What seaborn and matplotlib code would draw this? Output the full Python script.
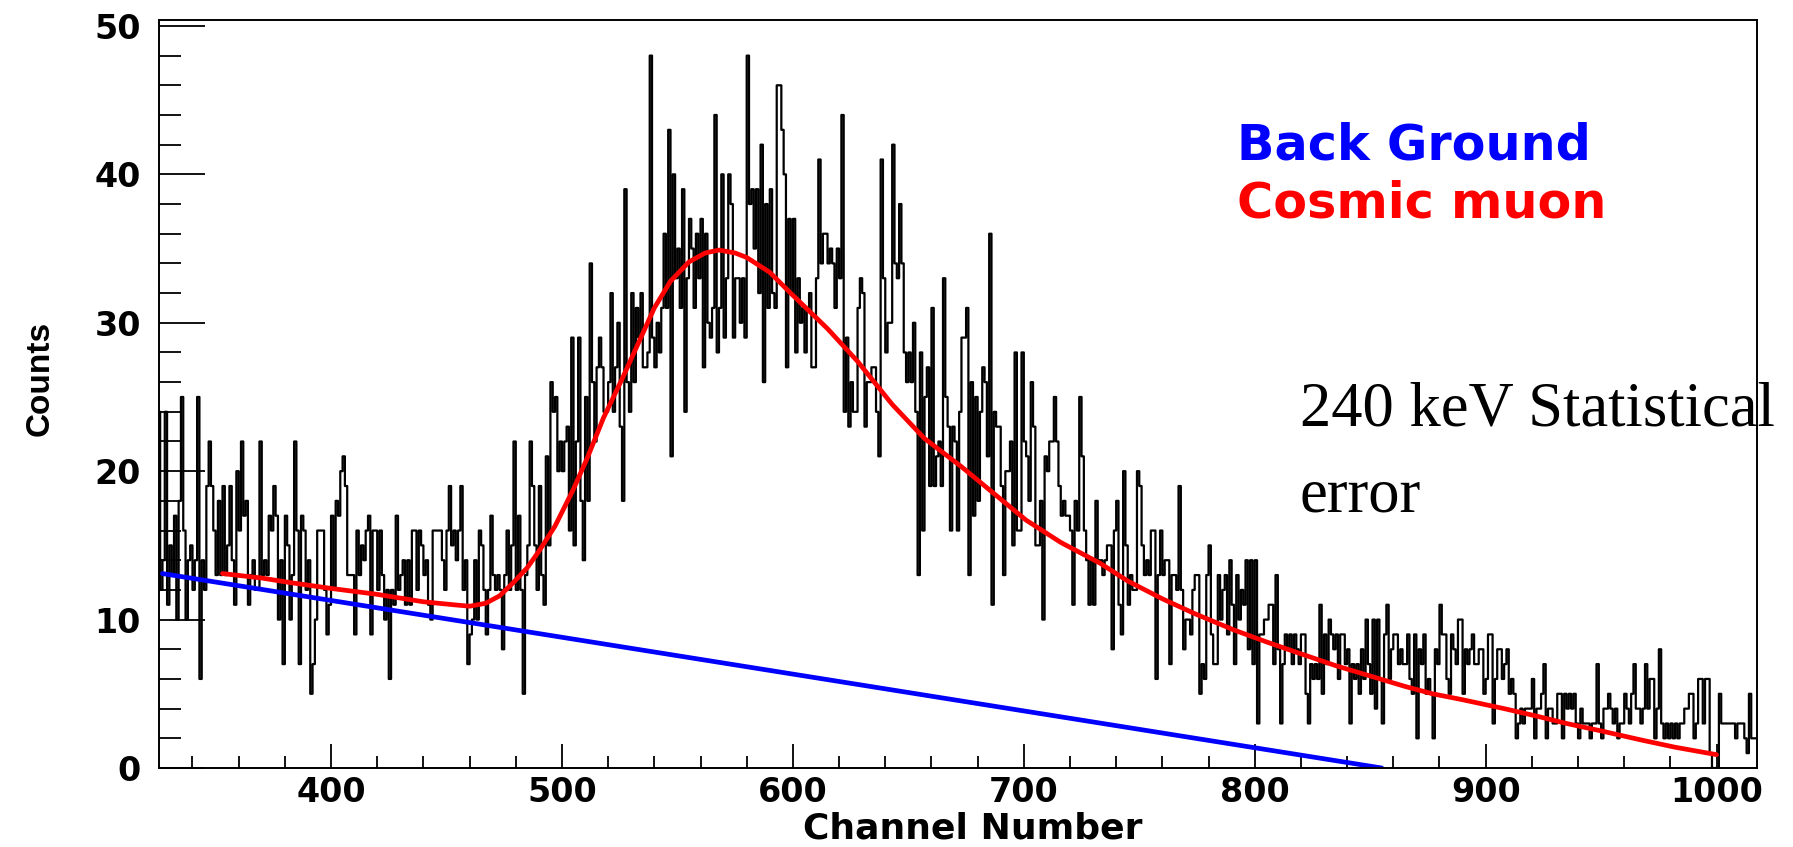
import numpy as np
import pandas as pd
import matplotlib
matplotlib.use("Agg")
import matplotlib.pyplot as plt
import seaborn as sns
from matplotlib.ticker import MultipleLocator

# ---------------- data ----------------
first_channel = 324
counts_a = [13,24,12,14,24,11,15,13,17,10, 18,25,16,10,14,15,12,14,25,6,
            14,12,19,22,19,16,13,18,13,19, 13,15,19,14,11,20,16,22,17,18,
            11,13,14,12,12,22,13,14,13,17, 16,19,17,10,14,7,17,15,10]
counts_b = [13,22,16,7,17,16,12,14,5,7, 10,16,16,16,12,9,11,17,12,18,
            17,20,21,19,13,13,13,9,16,13, 15,14,16,17,9,16,16,12,16,13,
            10,12,6,12,11,17,12,13,14,11, 14,11,16,16,12,16,15,13]
counts_c = [14,11,10,16,16,16,16,14,12,16, 19,15,16,14,16,19,12,14,7,9,
            10,14,10,16,15,12,9,12,17,13, 12,13,12,8,13,16,12,15,22,12,
            17,12,5,13,15,22,19,15,12,19, 13,11,21,15,26,24,25,20]
counts_d = [22,20,22,23,16,29,15,22,29,18, 14,25,18,34,26,22,27,29,27,24,
            24,26,32,24,27,30,23,18,39,26, 24,32,26,31,29,32,27,27,28,48,
            29,27,30,28,31,36,31,43,21,40, 33,35,31,39,24,33,37,35,31,36]
counts_e = [33,37,27,36,30,29,31,44,28,31, 40,29,33,40,38,29,33,33,30,33,
            29,48,38,39,35,39,32,42,26,38, 31,39,32,31,46,46,43,40,27,37,
            32,37,28,33,30,31,28,31,32,27, 27,33,41,34,36,36,34]
counts_f = [35,34,31,35,33,44,24,29,23,26, 24,24,31,33,32,23,26,26,27,27,
            24,21,41,33,28,30,30,42,34,33, 38,34,28,26,28,26,30,24,13,28,
            16,25,27,19,31,19,21,22,19,33, 25,23,16,23,22,16,24,29]
counts_g = [29,31,13,26,17,25,18,24,27,26, 21,36,11,24,23,23,19,13,20,20,
            22,15,28,16,16,28,22,21,18,26, 23,15,15,18,10,21,20,22,22,25,
            22,19,17,18,17,17,16,11,18,16, 25,21,16,14,11,14,11,18,14]
counts_h = [14,13,14,15,15,8,16,18,11,9, 20,15,11,13,12,12,20,19,15,13,
            14,13,16,16,6,13,16,13,14,14, 7,13,13,12,19,12,8,10,10,9,
            12,13,13,5,7,6,13,15,9,7, 7,13,10,12,13,9,14,11]
counts_i = [7,13,10,12,11,14,8,14,7,14, 3,9,9,10,10,11,11,7,13,8,
            3,7,9,8,9,7,9,8,7,9, 9,5,3,7,6,7,6,11,5,9,
            7,10,9,8,9,6,9,9,7,8, 3,7,6,7,5,8,6,10,7]
counts_j = [5,10,4,10,6,3,9,11,6,8, 9,9,7,8,7,7,9,6,5,9,
            2,8,7,9,5,6,5,2,8,7, 11,9,9,6,5,9,8,7,10,10,
            5,8,7,8,9,7,7,8,8,5, 6,9,9,3,6,8,8,6,7]
counts_k = [8,5,6,5,2,3,4,3,4,4, 4,6,2,4,4,5,7,2,4,4,
            3,3,5,5,2,5,4,5,4,5, 3,2,4,3,3,3,2,3,3,7,
            3,2,4,4,5,4,3,4,2,3, 3,5,4,3,5,7,4]
counts_l = [4,3,4,7,4,6,6,2,4,8, 3,2,3,2,3,2,3,2,3,3,
            4,4,5,5,2,3,6,6,3,6, 6,1,0,0,0,5,3,3,3,3,
            3,3,2,3,3,3,2,1,5,2, 2,2]

# Cosmic muon fit (red)
fit_channel = [353, 370, 382, 400, 420, 440, 453, 460, 467, 473, 479, 485, 490,
               497, 505, 511, 518, 526, 533, 540, 547, 555, 562, 568, 575, 580,
               590, 599, 607, 615, 628, 643, 657, 673, 687, 701, 716, 733, 745,
               760, 774, 791, 805, 818, 835, 850, 865, 877, 890, 908, 922, 935,
               950, 967, 982, 1000]
fit_counts = [13.1, 12.8, 12.5, 12.1, 11.7, 11.2, 11.0, 10.9, 11.1, 11.6, 12.5,
              13.5, 14.6, 16.3, 18.8, 20.9, 23.6, 26.2, 28.6, 31.0, 32.8, 34.1,
              34.7, 34.9, 34.7, 34.4, 33.4, 32.0, 30.8, 29.6, 27.4, 24.5, 22.2,
              20.3, 18.5, 16.7, 15.2, 13.8, 12.6, 11.4, 10.4, 9.3, 8.5, 7.8,
              6.9, 6.2, 5.5, 5.0, 4.6, 4.0, 3.5, 3.0, 2.5, 1.9, 1.4, 0.9]

# Background (blue)
bg_channel = [327, 855]
bg_counts = [13.1, 0.0]

x_ticks = [400, 500, 600, 700, 800, 900, 1000]
y_ticks = [0, 10, 20, 30, 40, 50]

# ---------------- figure ----------------
sns.set_theme(style="white")
plt.rcParams["font.family"] = ["DejaVu Sans"]
plt.rcParams["font.weight"] = "bold"

W, H = 1793, 847
fig = plt.figure(figsize=(W / 100, H / 100), dpi=100)
fig.patch.set_facecolor("white")
L, R, T, B = 159, 1757, 20, 768
ax = fig.add_axes([L / W, 1 - B / H, (R - L) / W, (B - T) / H])
ax.set_facecolor("white")

counts = (counts_a + counts_b + counts_c + counts_d + counts_e + counts_f +
          counts_g + counts_h + counts_i + counts_j + counts_k + counts_l)
channels = [first_channel + i for i in range(len(counts))]
df = pd.DataFrame({"channel": [c + 0.5 for c in channels], "counts": counts})
edges = [first_channel + i for i in range(len(counts) + 1)]

sns.histplot(data=df, x="channel", weights="counts", bins=edges,
             element="step", fill=False, color="black", linewidth=1.6, ax=ax)

sns.lineplot(x=bg_channel, y=bg_counts, color="#0000ff", linewidth=3.4,
             ax=ax, sort=False)
sns.lineplot(x=fit_channel, y=fit_counts, color="#ff0000", linewidth=3.4,
             ax=ax, sort=False)

ax.set_xlim(325.5, 1017.5)
ax.set_ylim(0, 50.4)
ax.set_xticks(x_ticks)
ax.set_yticks(y_ticks)
ax.xaxis.set_minor_locator(MultipleLocator(20))
ax.yaxis.set_minor_locator(MultipleLocator(2))
ax.tick_params(axis="both", which="both", direction="in", colors="black",
               top=False, right=False, bottom=True, left=True)
ax.tick_params(axis="y", which="major", length=33, width=1.3, pad=13,
               labelsize=24)
ax.tick_params(axis="y", which="minor", length=16, width=1.3)
ax.tick_params(axis="x", which="major", length=17, width=1.3, pad=6,
               labelsize=24)
ax.tick_params(axis="x", which="minor", length=8.5, width=1.3)
for lab in ax.get_xticklabels() + ax.get_yticklabels():
    lab.set_fontweight("bold")
for s in ax.spines.values():
    s.set_color("black")
    s.set_linewidth(1.4)
ax.set_xlabel("")
ax.set_ylabel("")
ax.grid(False)

fig.text(40 / W, 1 - 378 / H, "Counts", rotation=90, ha="center", va="center",
         fontsize=24, fontweight="bold", color="black",
         family=["Liberation Sans", "DejaVu Sans"])
fig.text(973 / W, 1 - 838 / H, "Channel Number", ha="center", va="baseline",
         fontsize=26, fontweight="bold", color="black")

fig.text(1237 / W, 1 - 160 / H, "Back Ground", ha="left", va="baseline",
         fontsize=35.5, fontweight="bold", color="#0000ff")
fig.text(1237 / W, 1 - 217 / H, "Cosmic muon", ha="left", va="baseline",
         fontsize=35.5, fontweight="bold", color="#ff0000")

fig.text(1300 / W, 1 - 425 / H, "240 keV Statistical", ha="left",
         va="baseline", fontsize=45, fontweight="normal", color="black",
         family=["Liberation Serif", "DejaVu Serif"])
fig.text(1300 / W, 1 - 511 / H, "error", ha="left", va="baseline",
         fontsize=45, fontweight="normal", color="black",
         family=["Liberation Serif", "DejaVu Serif"])

fig.savefig("out.png", dpi=100, facecolor="white")
